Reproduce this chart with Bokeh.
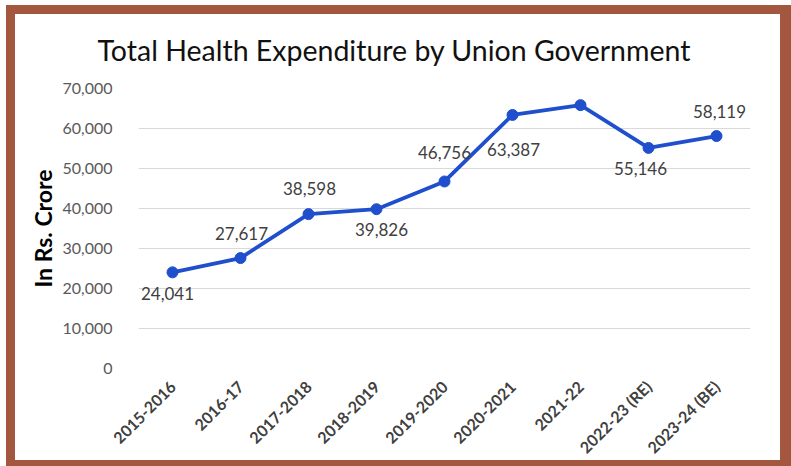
from bokeh.plotting import figure
from bokeh.models import ColumnDataSource, FactorRange, Range1d, FixedTicker, NumeralTickFormatter, Title, LabelSet
from bokeh.core.properties import value
from bokeh.embed import file_html
from bokeh.resources import INLINE
import math

years = ["2015-2016", "2016-17", "2017-2018", "2018-2019", "2019-2020",
         "2020-2021", "2021-22", "2022-23 (RE)", "2023-24 (BE)"]
expenditure = [24041, 27617, 38598, 39826, 46756, 63387, 65843, 55146, 58119]
label_text = ["24,041", "27,617", "38,598", "39,826", "46,756",
              "63,387", "65,843", "55,146", "58,119"]
y_ticks = [0, 10000, 20000, 30000, 40000, 50000, 60000, 70000]

# label placement (screen px): dx right, dy up
label_dx = [-5, 1, 1, 5, 0, 1, -21, -8, 3]
label_dy = [-21, 25, 26, -20, 29, -35, 27, -21, 25]

src = ColumnDataSource(dict(x=years, y=expenditure, t=label_text, dx=label_dx, dy=label_dy))

W, H = 785, 461
p = figure(width=W, height=H, x_range=FactorRange(*years, range_padding=0),
           y_range=Range1d(0, 70000), output_backend="svg", toolbar_location=None,
           min_border_left=132, min_border_right=41, min_border_top=83, min_border_bottom=98)
brown = "#A4573F"
p.styles = {"margin-left": "6px", "margin-top": "5px", "background-color": "white",
            "box-shadow": f"inset 9px 9px 0 0 {brown}, inset -11px -6px 0 0 {brown}"}

p.title = Title(text="Total Health Expenditure by Union Government", align="left",
                offset=-41, text_font="Lato", text_font_size="28.5px",
                text_font_style="normal", text_color="#111111", standoff=44)

p.outline_line_color = None
p.background_fill_color = "white"
p.border_fill_color = None

p.xgrid.grid_line_color = None
p.ygrid.grid_line_color = "#D9D9D9"
p.ygrid.grid_line_width = 1

p.yaxis.ticker = FixedTicker(ticks=y_ticks)
p.yaxis.formatter = NumeralTickFormatter(format="0,0")
p.yaxis.axis_line_color = None
p.yaxis.major_tick_line_color = None
p.yaxis.minor_tick_line_color = None
p.yaxis.major_label_text_font = "Lato"
p.yaxis.major_label_text_font_size = "16px"
p.yaxis.major_label_text_color = "#595959"
p.yaxis.major_label_standoff = 20
p.yaxis.axis_label = "In Rs. Crore"
p.yaxis.axis_label_text_font = "Lato"
p.yaxis.axis_label_text_font_size = "23px"
p.yaxis.axis_label_text_font_style = "bold"
p.yaxis.axis_label_text_color = "#000000"
p.yaxis.axis_label_standoff = 2

p.xaxis.axis_line_color = None
p.xaxis.major_tick_line_color = None
p.xaxis.minor_tick_line_color = None
p.xaxis.major_label_orientation = math.pi / 4
p.xaxis.major_label_text_font = "Lato"
p.xaxis.major_label_text_font_size = "16px"
p.xaxis.major_label_text_font_style = "bold"
p.xaxis.major_label_text_color = "#404040"
p.xaxis.major_label_standoff = 9

blue = "#1F4FCC"
p.line("x", "y", source=src, line_color=blue, line_width=3.8)
p.scatter("x", "y", source=src, size=11, fill_color=blue, line_color=blue)
labels = LabelSet(x="x", y="y", text="t", source=src, x_offset="dx", y_offset="dy",
                  text_align="center", text_baseline="middle", text_font=value("Lato"),
                  text_font_size="17px", text_color="#404040")
p.add_layout(labels)

open("out.html", "w").write(file_html(p, INLINE))
